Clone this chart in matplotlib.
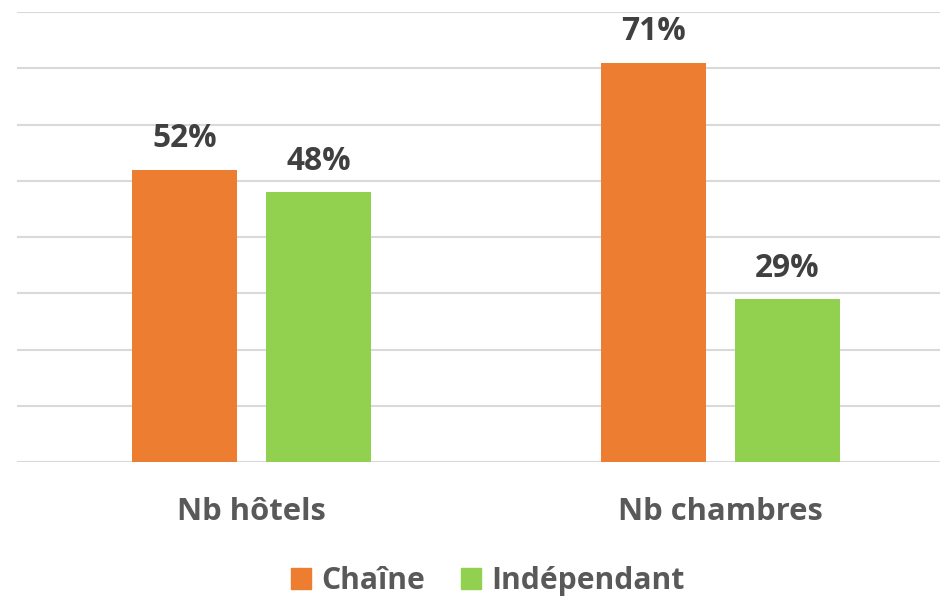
import matplotlib.pyplot as plt
from matplotlib.patches import Patch
from matplotlib.transforms import blended_transform_factory

categories = ['Nb hôtels', 'Nb chambres']
chaine = [52, 71]
independant = [48, 29]
series_names = ['Chaîne', 'Indépendant']

orange = '#ED7D31'
green = '#92D050'

plt.rcParams['font.family'] = ['Open Sans', 'DejaVu Sans']
plt.rcParams['font.weight'] = 'bold'

fig = plt.figure(figsize=(9.4, 5.96), dpi=100)
ax = fig.add_axes([17 / 940, 134 / 596, 938 / 940, 450 / 596])

w = 0.224
off = 0.143
x = list(range(len(categories)))
b1 = ax.bar([i - off for i in x], chaine, width=w, color=orange, zorder=3)
b2 = ax.bar([i + off for i in x], independant, width=w, color=green, zorder=3)

for bars in (b1, b2):
    for rect in bars:
        v = rect.get_height()
        ax.annotate(f'{v:.0f}%', xy=(rect.get_x() + rect.get_width() / 2, v),
                    xytext=(0, 16), textcoords='offset points',
                    ha='center', va='baseline', fontsize=22.8, color='#404040',
                    fontweight='bold')

ax.set_xlim(-0.5, 1.5)
ax.set_ylim(0, 80)
ax.set_yticks(range(0, 81, 10))
ax.yaxis.grid(True, color='#D9D9D9', linewidth=1.5, zorder=0)
ax.tick_params(left=False, labelleft=False, bottom=False, labelbottom=False)
for s in ax.spines.values():
    s.set_visible(False)

tr = blended_transform_factory(ax.transData, fig.transFigure)
for i, c in enumerate(categories):
    ax.text(i, (596 - 520) / 596, c, transform=tr, ha='center', va='baseline',
            fontsize=22.3, color='#595959', fontweight='bold')

handles = [Patch(color=orange, label=series_names[0]),
           Patch(color=green, label=series_names[1])]
leg = fig.legend(handles=handles, loc='lower center', bbox_to_anchor=(488 / 940, -0.025),
                 ncol=2, frameon=False, fontsize=21.7, handlelength=0.67, handleheight=0.67,
                 handletextpad=0.34, columnspacing=1.2, borderaxespad=0.1)
for t in leg.get_texts():
    t.set_color('#595959')
    t.set_fontweight('bold')

fig.savefig('out.png', dpi=100)
